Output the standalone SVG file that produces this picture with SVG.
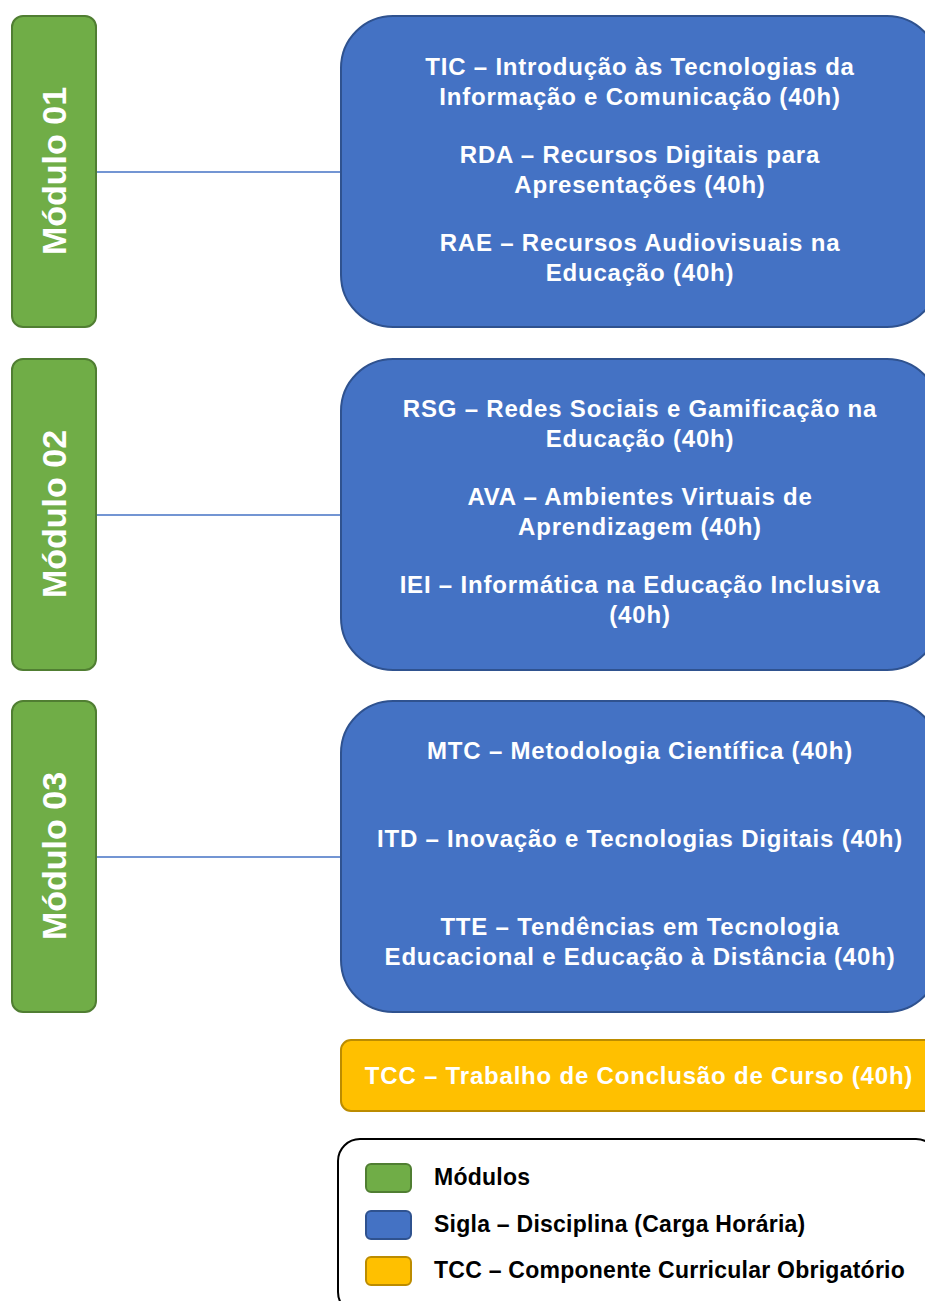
<svg xmlns="http://www.w3.org/2000/svg" width="925" height="1301" viewBox="0 0 925 1301">
<style>
.mod{fill:#70AD47;stroke:#507E32;stroke-width:2}
.dis{fill:#4472C4;stroke:#2F528F;stroke-width:2}
.tcc{fill:#FFC000;stroke:#BC8C00;stroke-width:2}
.mt{font-family:"Liberation Sans",Arial,sans-serif;font-weight:bold;font-size:34px;fill:#fff;text-anchor:middle}
.dt{font-family:"Liberation Sans",Arial,sans-serif;font-weight:bold;font-size:24px;letter-spacing:0.8px;fill:#fff;text-anchor:middle}
.lt{font-family:"Liberation Sans",Arial,sans-serif;font-weight:bold;font-size:23px;letter-spacing:0.25px;fill:#000}
.con{stroke:#4472C4;stroke-width:1.3;fill:none}
</style>
<rect width="925" height="1301" fill="#fff"/>
<g id="connectors">
<line class="con" x1="96" y1="172" x2="341" y2="172"/>
<line class="con" x1="96" y1="515" x2="341" y2="515"/>
<line class="con" x1="96" y1="857" x2="341" y2="857"/>
</g>
<g id="modulo01">
<rect class="mod" x="12" y="16" width="84" height="311" rx="11"/>
<text class="mt" transform="translate(66,171) rotate(-90)">Módulo 01</text>
</g>
<g id="modulo02">
<rect class="mod" x="12" y="359" width="84" height="311" rx="11"/>
<text class="mt" transform="translate(66,514) rotate(-90)">Módulo 02</text>
</g>
<g id="modulo03">
<rect class="mod" x="12" y="701" width="84" height="311" rx="11"/>
<text class="mt" transform="translate(66,856) rotate(-90)">Módulo 03</text>
</g>
<g id="disciplinas01">
<rect class="dis" x="341" y="16" width="598" height="311" rx="52"/>
<text class="dt" x="640" y="75">TIC – Introdução às Tecnologias da</text>
<text class="dt" x="640" y="105">Informação e Comunicação (40h)</text>
<text class="dt" x="640" y="163">RDA – Recursos Digitais para</text>
<text class="dt" x="640" y="193">Apresentações (40h)</text>
<text class="dt" x="640" y="251">RAE – Recursos Audiovisuais na</text>
<text class="dt" x="640" y="281">Educação (40h)</text>
</g>
<g id="disciplinas02">
<rect class="dis" x="341" y="359" width="598" height="311" rx="52"/>
<text class="dt" x="640" y="417">RSG – Redes Sociais e Gamificação na</text>
<text class="dt" x="640" y="447">Educação (40h)</text>
<text class="dt" x="640" y="505">AVA – Ambientes Virtuais de</text>
<text class="dt" x="640" y="535">Aprendizagem (40h)</text>
<text class="dt" x="640" y="593">IEI – Informática na Educação Inclusiva</text>
<text class="dt" x="640" y="623">(40h)</text>
</g>
<g id="disciplinas03">
<rect class="dis" x="341" y="701" width="598" height="311" rx="52"/>
<text class="dt" x="640" y="759">MTC – Metodologia Científica (40h)</text>
<text class="dt" x="640" y="847">ITD – Inovação e Tecnologias Digitais (40h)</text>
<text class="dt" x="640" y="935">TTE – Tendências em Tecnologia</text>
<text class="dt" x="640" y="965">Educacional e Educação à Distância (40h)</text>
</g>
<g id="tcc">
<rect class="tcc" x="341" y="1040" width="598" height="71" rx="10"/>
<text class="dt" x="639" y="1084">TCC – Trabalho de Conclusão de Curso (40h)</text>
</g>
<g id="legenda">
<rect x="338" y="1139" width="600" height="175" rx="22" fill="#fff" stroke="#000" stroke-width="2"/>
<rect class="mod" x="366" y="1164" width="45" height="28" rx="5"/>
<rect class="dis" x="366" y="1211" width="45" height="28" rx="5"/>
<rect class="tcc" x="366" y="1257" width="45" height="28" rx="5"/>
<text class="lt" x="434" y="1185">Módulos</text>
<text class="lt" x="434" y="1232">Sigla – Disciplina (Carga Horária)</text>
<text class="lt" x="434" y="1278">TCC – Componente Curricular Obrigatório</text>
</g>
</svg>
